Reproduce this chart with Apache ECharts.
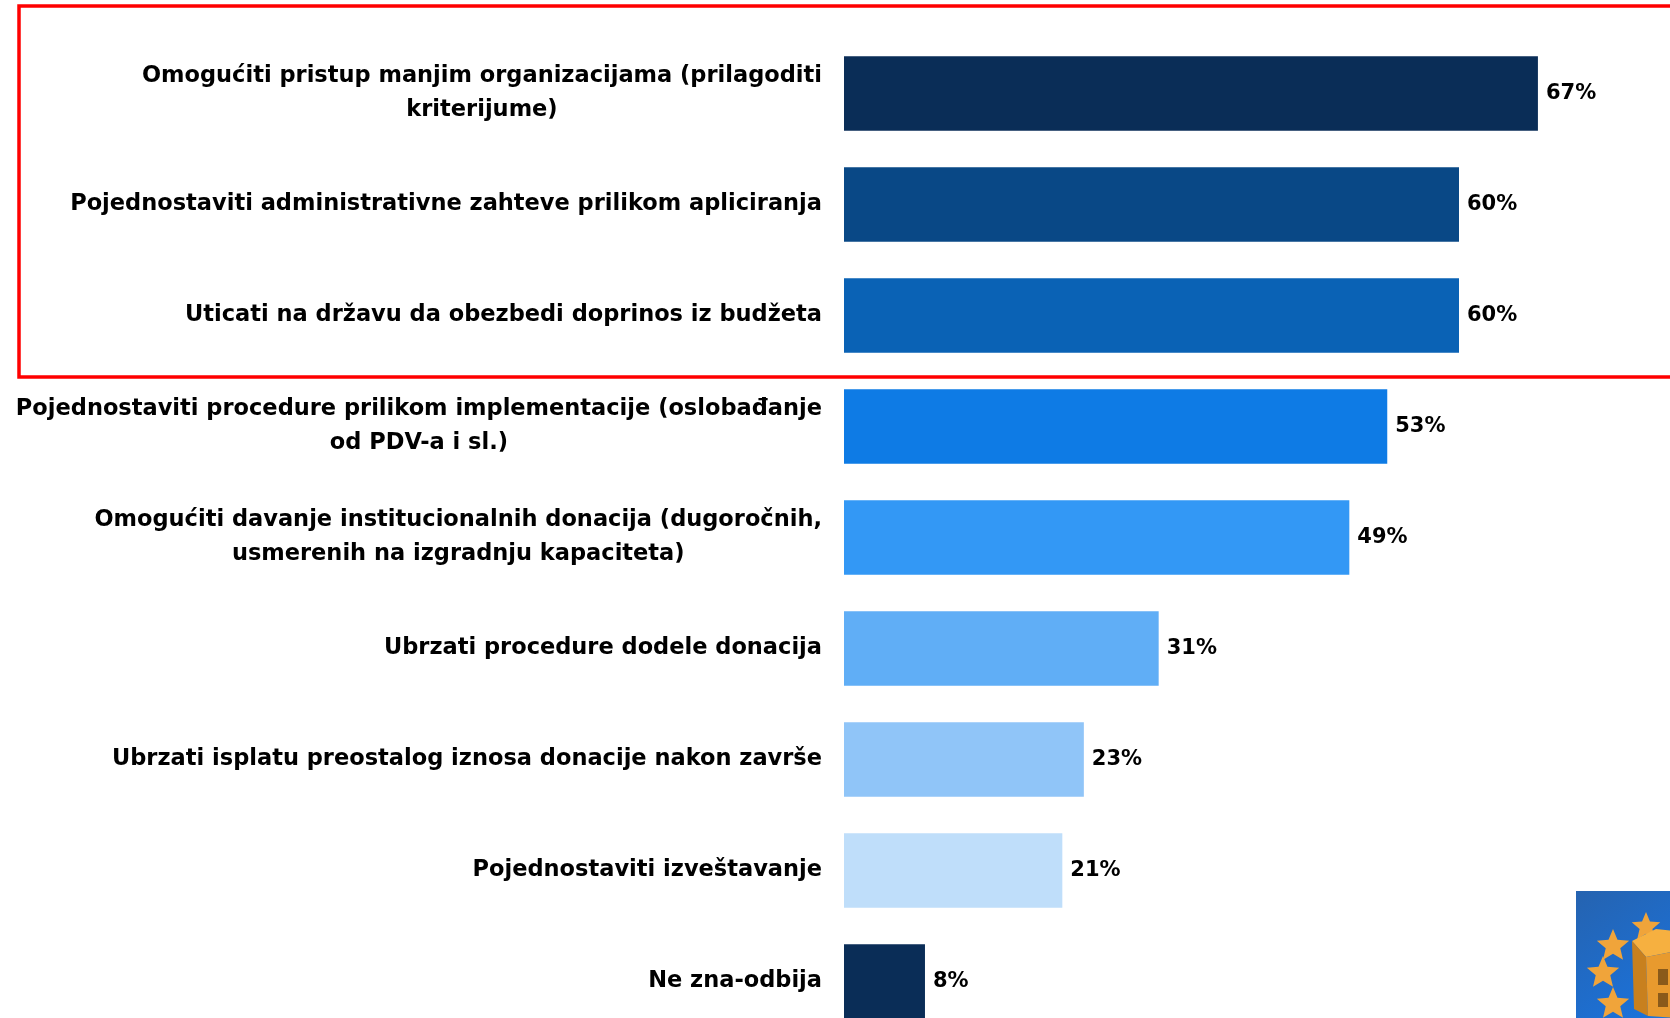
<!DOCTYPE html>
<html>
<head>
<meta charset="utf-8">
<script src="https://cdn.jsdelivr.net/npm/echarts@6/dist/echarts.min.js"></script>
<style>
html,body{margin:0;padding:0;background:#fff;}
#chart{width:1670px;height:1018px;}
</style>
</head>
<body>
<div id="chart"></div>
<script>
const categories = [
  'Omogućiti pristup manjim organizacijama (prilagoditi\nkriterijume)',
  'Pojednostaviti administrativne zahteve prilikom apliciranja',
  'Uticati na državu da obezbedi doprinos iz budžeta',
  'Pojednostaviti procedure prilikom implementacije (oslobađanje\nod PDV-a i sl.)',
  'Omogućiti davanje institucionalnih donacija (dugoročnih,\nusmerenih na izgradnju kapaciteta)',
  'Ubrzati procedure dodele donacija',
  'Ubrzati isplatu preostalog iznosa donacije nakon završe',
  'Pojednostaviti izveštavanje',
  'Ne zna-odbija'
];
const values = [67.7, 60, 60, 53, 49.3, 30.7, 23.4, 21.3, 7.9];
const valueLabels = ['67%', '60%', '60%', '53%', '49%', '31%', '23%', '21%', '8%'];
const barColors = ['#0a2d57', '#094886', '#0a62b5', '#0e7be5', '#3398f5', '#60aef6', '#90c5f8', '#bfdefa', '#0a2d57'];

const FONT = 'DejaVu Sans';

function star(cx, cy, r) {
  const pts = [];
  for (let i = 0; i < 10; i++) {
    const a = -Math.PI / 2 + i * Math.PI / 5;
    const rr = i % 2 === 0 ? r : r * 0.45;
    pts.push([cx + rr * Math.cos(a), cy + rr * Math.sin(a)]);
  }
  return pts;
}

const chart = echarts.init(document.getElementById('chart'));
chart.setOption({
  animation: false,
  backgroundColor: '#ffffff',
  grid: { left: 844, right: 6, top: 38, bottom: -19, outerBoundsMode: 'none', containLabel: false },
  xAxis: { type: 'value', min: 0, max: 80, show: false },
  yAxis: {
    type: 'category',
    inverse: true,
    data: categories,
    axisLine: { show: false },
    axisTick: { show: false },
    splitLine: { show: false },
    axisLabel: {
      margin: 22,
      color: '#000',
      fontFamily: FONT,
      fontWeight: 'bold',
      fontSize: 22.5,
      lineHeight: 34,
      formatter: function (v) {
        return v.split('\n').map(function (l) { return '{c|' + l + '}'; }).join('\n');
      },
      rich: {
        c: { align: 'center', color: '#000', fontFamily: FONT, fontWeight: 'bold', fontSize: 22.5, lineHeight: 34 }
      }
    }
  },
  series: [{
    type: 'bar',
    barCategoryGap: '33%',
    data: values.map(function (v, i) { return { value: v, itemStyle: { color: barColors[i] } }; }),
    label: {
      show: true,
      position: 'right',
      distance: 8,
      formatter: function (p) { return valueLabels[p.dataIndex]; },
      color: '#000',
      fontFamily: FONT,
      fontWeight: 'bold',
      fontSize: 21
    }
  }],
  graphic: [
    {
      type: 'rect', z: 100,
      shape: { x: 19, y: 6, width: 1700, height: 371 },
      style: { fill: null, stroke: '#ff0000', lineWidth: 3.5 }
    },
    {
      type: 'group', x: 1576, y: 891, z: 100,
      children: [
        { type: 'rect', shape: { x: 0, y: 0, width: 100, height: 130 },
          style: { fill: new echarts.graphic.LinearGradient(0, 0, 1, 1, [{ offset: 0, color: '#2563b0' }, { offset: 1, color: '#1a74e0' }]) } },
        { type: 'polygon', shape: { points: star(37, 55, 17) }, style: { fill: '#f0a43a' } },
        { type: 'polygon', shape: { points: star(27, 82, 17) }, style: { fill: '#f0a43a' } },
        { type: 'polygon', shape: { points: star(37, 113, 17) }, style: { fill: '#f0a43a' } },
        { type: 'polygon', shape: { points: star(70, 36, 15) }, style: { fill: '#f0a43a' } },
        { type: 'polygon', shape: { points: [[56, 50], [80, 38], [100, 40], [100, 60], [70, 66]] }, style: { fill: '#f6b040' } },
        { type: 'polygon', shape: { points: [[56, 50], [70, 66], [72, 125], [58, 118]] }, style: { fill: '#c8801e' } },
        { type: 'polygon', shape: { points: [[70, 66], [100, 60], [100, 127], [72, 125]] }, style: { fill: '#e89a2e' } },
        { type: 'rect', shape: { x: 82, y: 78, width: 10, height: 16 }, style: { fill: '#8a5a1a' } },
        { type: 'rect', shape: { x: 82, y: 102, width: 10, height: 14 }, style: { fill: '#8a5a1a' } }
      ]
    }
  ]
});
</script>
</body>
</html>
